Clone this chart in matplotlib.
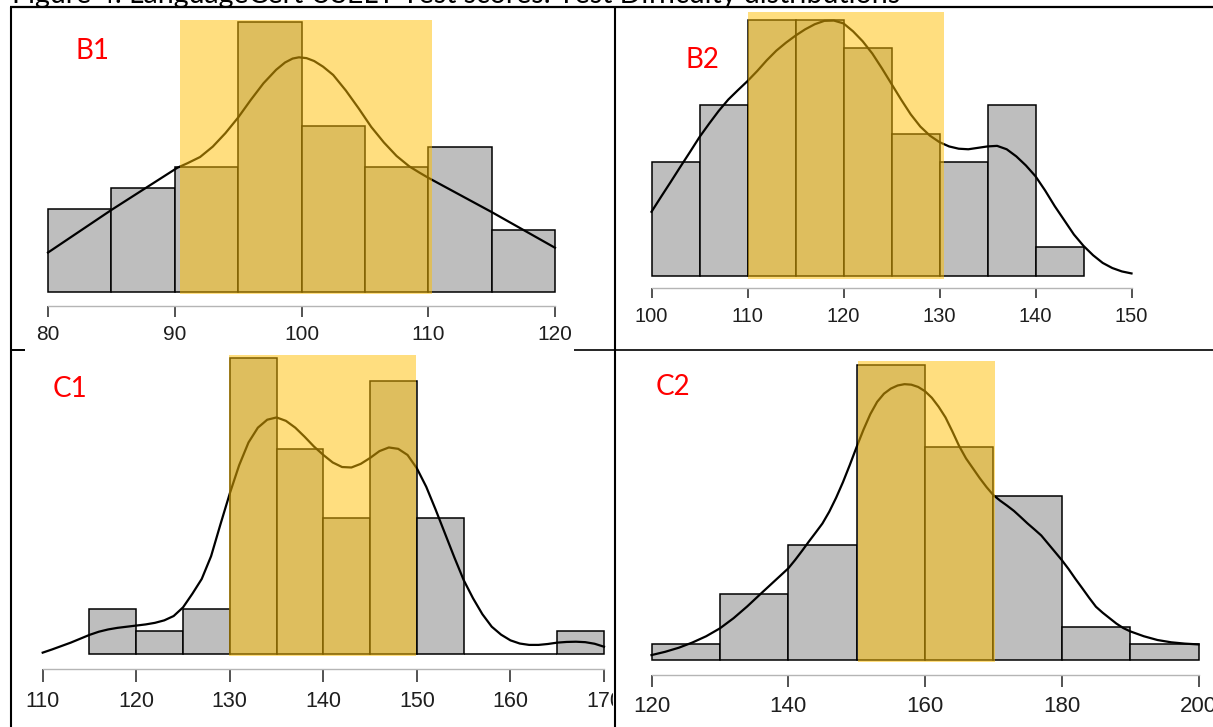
import numpy as np
import matplotlib
matplotlib.use("Agg")
import matplotlib.pyplot as plt
from matplotlib.patches import Rectangle

plt.rcParams['font.family'] = ['Liberation Sans', 'DejaVu Sans']

W, H = 1213, 727

# ---------------- data ----------------
# B1
b1_edges = [80, 85, 90, 95, 100, 105, 110, 115, 120]
b1_counts = [4, 5, 6, 13, 8, 6, 7, 3]
b1_curve_x = [80, 85, 90.2, 91, 92, 93, 94, 95, 96, 97, 98, 98.7, 99.3, 99.8, 100.4, 101, 101.7,
              102.5, 103.5, 104.5, 105.5, 106.5, 107.5, 108.5, 109.3, 110, 115, 120]
b1_curve_y = [1.9, 3.95, 5.98, 6.2, 6.5, 7.0, 7.65, 8.4, 9.25, 10.05, 10.7, 11.05, 11.24, 11.3, 11.26,
              11.12, 10.85, 10.45, 9.7, 8.85, 7.95, 7.2, 6.55, 6.05, 5.75, 5.5, 3.85, 2.13]
b1_span = [90.4, 110.3, 13.1]
b1_ticks = [80, 90, 100, 110, 120]

# B2
b2_edges = [100, 105, 110, 115, 120, 125, 130, 135, 140, 145]
b2_counts = [4, 6, 9, 9, 8, 5, 4, 6, 1]
b2_curve_x = list(range(100, 151))
b2_curve_y = [2.25, 2.78, 3.3, 3.83, 4.35, 4.88, 5.35, 5.8, 6.2, 6.53,
              6.85, 7.2, 7.58, 7.92, 8.2, 8.45, 8.67, 8.85, 8.97, 8.98,
              8.88, 8.6, 8.25, 7.82, 7.3, 6.75, 6.2, 5.68, 5.25, 4.93,
              4.7, 4.55, 4.47, 4.45, 4.5, 4.55, 4.57, 4.45, 4.2, 3.88,
              3.5, 3.0, 2.45, 1.95, 1.45, 1.05, 0.72, 0.45, 0.27, 0.15,
              0.08]
b2_span = [110.1, 130.5, 9.27]
b2_ticks = [100, 110, 120, 130, 140, 150]

# C1
c1_edges = [115, 120, 125, 130, 135, 140, 145, 150, 155, 160, 165, 170]
c1_counts = [2, 1, 2, 13, 9, 6, 12, 6, 0, 0, 1]
c1_curve_x = list(range(110, 171))
c1_curve_y = [0.06, 0.2, 0.35, 0.5, 0.67, 0.84, 0.98, 1.08, 1.15, 1.2,
              1.25, 1.3, 1.37, 1.48, 1.67, 2.05, 2.65, 3.3, 4.3, 5.7,
              7.06, 8.3, 9.3, 9.95, 10.3, 10.4, 10.25, 9.95, 9.55, 9.12,
              8.75, 8.42, 8.22, 8.2, 8.36, 8.62, 8.92, 9.08, 9.02, 8.75,
              8.16, 7.35, 6.35, 5.3, 4.25, 3.25, 2.45, 1.75, 1.2, 0.85,
              0.6, 0.46, 0.4, 0.4, 0.44, 0.5, 0.53, 0.54, 0.52, 0.45,
              0.32]
c1_span = [129.9, 149.9, 13.14]
c1_ticks = [110, 120, 130, 140, 150, 160, 170]

# C2
c2_edges = [120, 130, 140, 150, 160, 170, 180, 190, 200]
c2_counts = [1, 4, 7, 18, 13, 10, 2, 1]
c2_curve_x = [120, 122, 124, 126, 128, 130, 132, 134, 136, 138, 140, 141, 142, 143, 144, 145,
              146, 147, 148, 149, 150, 151, 152, 153, 154, 155, 156, 157, 158, 159, 160, 161,
              162, 163, 164, 165, 166, 167, 168, 169, 170, 171, 172, 173, 174, 175, 176, 177,
              178, 179, 180, 181, 182, 183, 184, 185, 186, 187, 188, 189, 190, 192, 194, 196,
              198, 200]
c2_curve_y = [0.3, 0.5, 0.75, 1.07, 1.45, 1.93, 2.55, 3.27, 4.05, 4.82, 5.59, 6.1, 6.65, 7.22, 7.77, 8.33,
              9.05, 9.9, 10.85, 11.9, 13.0, 14.05, 15.0, 15.75, 16.25, 16.56, 16.75, 16.83, 16.8, 16.66, 16.4, 16.0,
              15.45, 14.8, 13.95, 13.05, 12.3, 11.7, 11.1, 10.55, 10.06, 9.72, 9.42, 9.1, 8.72, 8.33, 7.97, 7.6,
              7.1, 6.6, 6.1, 5.55, 4.95, 4.38, 3.8, 3.25, 2.88, 2.55, 2.22, 1.95, 1.75, 1.45, 1.22, 1.08,
              1.0, 0.95]
c2_span = [150.2, 170.2, 18.25]
c2_ticks = [120, 140, 160, 180, 200]

title = "Figure 4. LanguageCert USELT Test scores: Test Difficulty distributions"

fig = plt.figure(figsize=(W / 100, H / 100), dpi=100)


def make_panel(left, top, right, axis_y, xref, yref):
    # xref: ((value, px), (value, px)); yref: (px of zero, count, px of count)
    (xa, pa), (xb, pb) = xref
    py0, c1, py1 = yref
    ax = fig.add_axes([left / W, 1 - axis_y / H, (right - left) / W, (axis_y - top) / H])
    sx = (pb - pa) / (xb - xa)
    ax.set_xlim(xa - (pa - left) / sx, xa + (right - pa) / sx)
    sy = (py0 - py1) / c1
    ax.set_ylim(-(axis_y - py0) / sy, (py0 - top) / sy)
    ax.patch.set_visible(False)
    return ax


def draw(ax, edges, counts, cx, cy, span, ticks, fs, tlen, pad):
    ax.bar(edges[:-1], counts, width=np.diff(edges), align='edge', color='#bebebe',
           edgecolor='black', linewidth=1.1, zorder=2)
    ax.plot(cx, cy, color='black', lw=1.6, zorder=3, solid_joinstyle='round')
    ax.add_patch(Rectangle((span[0], -0.1), span[1] - span[0], span[2] + 0.1,
                           facecolor=(1.0, 0.745, 0.0), alpha=0.5, lw=0, zorder=4))
    for s in ['left', 'right', 'top']:
        ax.spines[s].set_visible(False)
    ax.spines['bottom'].set_bounds(ticks[0], ticks[-1])
    ax.spines['bottom'].set_color('#b5b5b5')
    ax.spines['bottom'].set_linewidth(1.0)
    ax.set_xticks(ticks)
    ax.set_yticks([])
    ax.tick_params(axis='x', direction='out', length=tlen, width=1.3, color='#444444',
                   labelsize=fs, labelcolor='#1e1e1e', pad=pad)


ax_b1 = make_panel(30, 10, 575, 306, ((80, 48), (120, 555)), (292, 13, 22))
draw(ax_b1, b1_edges, b1_counts, b1_curve_x, b1_curve_y, b1_span, b1_ticks, 15, 8, 5.5)

ax_b2 = make_panel(630, 8, 1150, 288, ((100, 651.5), (150, 1131.5)), (275.7, 9, 20))
draw(ax_b2, b2_edges, b2_counts, b2_curve_x, b2_curve_y, b2_span, b2_ticks, 14.5, 7.5, 6)

ax_c1 = make_panel(25, 352, 612, 669, ((110, 42.7), (170, 604)), (654, 13, 358.3))
draw(ax_c1, c1_edges, c1_counts, c1_curve_x, c1_curve_y, c1_span, c1_ticks, 15.5, 9, 6.5)

ax_c2 = make_panel(630, 352, 1213, 675, ((120, 651.5), (200, 1198.5)), (660, 18, 365))
draw(ax_c2, c2_edges, c2_counts, c2_curve_x, c2_curve_y, c2_span, c2_ticks, 16, 8.5, 6.5)

# panel labels
for txt, x, y in [("B1", 92, 59), ("B2", 702, 68), ("C1", 69.5, 397), ("C2", 673, 395)]:
    fig.text(x / W, 1 - y / H, txt, color='#ff0000', fontsize=20, family='Lato',
             ha='center', va='baseline')

# caption, cut off at the top edge
fig.text(12 / W, 1 - 2.5 / H, title, fontsize=20.5, family='Lato', ha='left', va='baseline',
         color='black')

# table borders
ov = fig.add_axes([0, 0, 1, 1], zorder=10)
ov.set_xlim(0, W)
ov.set_ylim(H, 0)
ov.axis('off')
ov.patch.set_visible(False)
ov.add_patch(Rectangle((613, 684), 20, 34, facecolor='white', lw=0))
ov.add_patch(Rectangle((0, 5.5), W, 3, facecolor='white', lw=0))
ov.plot([10, W], [7, 7], color='black', lw=1.6, solid_capstyle='butt')
ov.plot([11, 11], [7, H], color='black', lw=1.5, solid_capstyle='butt')
ov.plot([615, 615], [7, H], color='black', lw=1.5, solid_capstyle='butt')
ov.plot([10, 25], [350, 350], color='black', lw=1.4, solid_capstyle='butt')
ov.plot([574, W], [350, 350], color='black', lw=1.2, solid_capstyle='butt')

fig.savefig("out.png", dpi=100)
